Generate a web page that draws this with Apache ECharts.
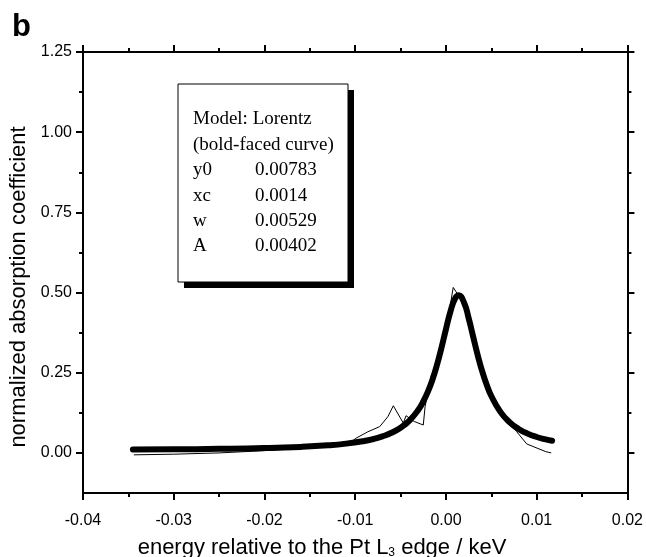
<!DOCTYPE html>
<html>
<head>
<meta charset="utf-8">
<script src="https://cdn.jsdelivr.net/npm/echarts@6/dist/echarts.min.js"></script>
<style>html,body{margin:0;padding:0;background:#fff;}#c{width:646px;height:557px;}</style>
</head>
<body>
<div id="c"></div>
<script>
// Fitted Lorentz curve (bold-faced)
var fitX = [-0.0345,-0.03,-0.025,-0.02,-0.016,-0.013,-0.011,-0.009,-0.008,-0.007,-0.006,-0.005,-0.004,-0.003,-0.0025,-0.002,-0.0015,-0.001,-0.0005,0,0.0005,0.001,0.0014,0.002,0.0025,0.003,0.0035,0.004,0.0045,0.005,0.006,0.007,0.008,0.009,0.010,0.011,0.0117];
var fitY = [0.0104,0.0112,0.0126,0.0151,0.0188,0.0236,0.0289,0.0372,0.0433,0.0515,0.0626,0.0784,0.1014,0.1363,0.1603,0.1902,0.2275,0.2732,0.3270,0.3858,0.4415,0.4809,0.4917,0.4680,0.4203,0.3620,0.3046,0.2539,0.2117,0.1774,0.1280,0.0961,0.0748,0.0601,0.0496,0.0420,0.0378];
// Measured spectrum (thin line)
var dataX = [-0.0344,-0.030,-0.025,-0.020,-0.015,-0.012,-0.0105,-0.0099,-0.0086,-0.0073,-0.0064,-0.0058,-0.0047,-0.0044,-0.0035,-0.0025,-0.0023,-0.0016,-0.001,-0.0003,0.0003,0.0008,0.0014,0.002,0.003,0.004,0.005,0.006,0.007,0.0078,0.0089,0.011,0.0116];
var dataY = [-0.006,-0.004,0.000,0.007,0.016,0.024,0.033,0.046,0.066,0.082,0.113,0.147,0.093,0.116,0.098,0.087,0.144,0.243,0.27,0.35,0.43,0.516,0.49,0.46,0.36,0.25,0.175,0.126,0.093,0.066,0.028,0.004,0.000];
// Axis ticks
var yMajor = [0, 0.25, 0.5, 0.75, 1.0, 1.25];
var yMinor = [0.125, 0.375, 0.625, 0.875, 1.125];
// Texts
var xTitle = ['energy relative to the Pt L', '3', ' edge / keV'];
var yTitle = 'normalized absorption coefficient';
var panelLabel = 'b';
// Inset parameter box
var boxTitle = ['Model: Lorentz', '(bold-faced curve)'];
var paramNames = ['y0', 'xc', 'w', 'A'];
var paramValues = ['0.00783', '0.0014', '0.00529', '0.00402'];

function pairs(xs, ys) { return xs.map(function (x, i) { return [x, ys[i]]; }); }

var chart = echarts.init(document.getElementById('c'), null, {renderer: 'canvas'});
var sans = 'Liberation Sans, Arial, sans-serif';
var axisLine = {show: true, onZero: false, lineStyle: {color: '#000', width: 2}};
var labelFont = {color: '#000', fontFamily: sans, fontSize: 16};

function xAx(pos, showLabel) {
  return {
    type: 'value', position: pos, min: -0.04, max: 0.02, interval: 0.01,
    axisLine: axisLine,
    axisTick: {show: true, inside: false, length: 7, lineStyle: {color: '#000', width: 2}},
    minorTick: {show: true, splitNumber: 2, length: 4, lineStyle: {color: '#000', width: 2}},
    splitLine: {show: false},
    axisLabel: Object.assign({show: showLabel, margin: 20, formatter: function (v) { return v.toFixed(2); }}, labelFont)
  };
}
function yAx(pos, vals, len, showLine, showLabel) {
  return {
    type: 'value', position: pos, min: -0.125, max: 1.25,
    axisLine: showLine ? axisLine : {show: false, onZero: false},
    axisTick: {show: true, inside: false, length: len, customValues: vals, lineStyle: {color: '#000', width: 2}},
    splitLine: {show: false},
    axisLabel: Object.assign({show: showLabel, margin: 11, customValues: vals, formatter: function (v) { return v.toFixed(2); }}, labelFont)
  };
}

var g = [];
g.push({type: 'rect', shape: {x: 184, y: 90, width: 170, height: 198}, style: {fill: '#000'}, z: 10});
g.push({type: 'rect', shape: {x: 178, y: 84, width: 170, height: 198}, style: {fill: '#fff', stroke: '#000', lineWidth: 1}, z: 11});
var serif = 'Liberation Serif, Times New Roman, serif';
var lineTop = 110, lineH = 25.4;
boxTitle.forEach(function (t, i) {
  g.push({type: 'text', x: 193, y: lineTop + i * lineH, style: {text: t, font: '19px ' + serif, fill: '#000'}, z: 12});
});
paramNames.forEach(function (t, i) {
  var yy = lineTop + (i + 2) * lineH;
  g.push({type: 'text', x: 193, y: yy, style: {text: t, font: '19px ' + serif, fill: '#000'}, z: 12});
  g.push({type: 'text', x: 255, y: yy, style: {text: paramValues[i], font: '19px ' + serif, fill: '#000'}, z: 12});
});
g.push({type: 'text', x: 12, y: 12, style: {text: panelLabel, font: 'bold 31px ' + sans, fill: '#000'}, z: 12});
g.push({type: 'text', x: 19, y: 287, rotation: Math.PI / 2,
  style: {text: yTitle, font: '22px ' + sans, fill: '#000', align: 'center', verticalAlign: 'middle'}, z: 12});
g.push({type: 'text', x: 322, y: 537,
  style: {text: xTitle[0] + '{s|' + xTitle[1] + '}' + xTitle[2], font: '22px ' + sans, fill: '#000', align: 'center', verticalAlign: 'top',
    rich: {s: {fontSize: 12, fontFamily: sans, padding: [10, 0, 0, 0], fill: '#000'}}}, z: 12});

chart.setOption({
  animation: false,
  backgroundColor: '#fff',
  grid: {left: 83, right: 18, top: 52, bottom: 64, containLabel: false},
  xAxis: [xAx('bottom', true), xAx('top', false)],
  yAxis: [
    yAx('left', yMajor, 7, true, true),
    yAx('left', yMinor, 4, false, false),
    yAx('right', yMajor, 7, true, false),
    yAx('right', yMinor, 4, false, false)
  ],
  series: [
    {type: 'line', data: pairs(dataX, dataY), showSymbol: false, symbol: 'none', lineStyle: {color: '#000', width: 1}, z: 3},
    {type: 'line', data: pairs(fitX, fitY), smooth: true, showSymbol: false, symbol: 'none', lineStyle: {color: '#000', width: 6, cap: 'round', join: 'round'}, z: 4}
  ],
  graphic: g
});
</script>
</body>
</html>
